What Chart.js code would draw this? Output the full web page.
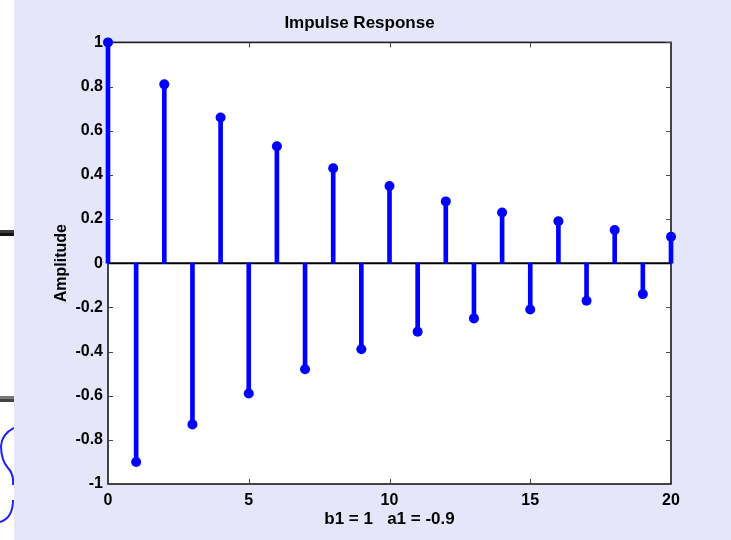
<!DOCTYPE html>
<html>
<head>
<meta charset="utf-8">
<script src="https://cdn.jsdelivr.net/npm/chart.js@4/dist/chart.umd.min.js"></script>
<style>
html,body{margin:0;padding:0;background:#e6e6fa;}
#wrap{width:731px;height:540px;position:relative;}
</style>
</head>
<body>
<div id="wrap"><canvas id="c" width="731" height="540"></canvas></div>
<script>
// Data
const samples = [0,1,2,3,4,5,6,7,8,9,10,11,12,13,14,15,16,17,18,19,20];
const amplitude = [1.0,-0.90,0.81,-0.73,0.66,-0.59,0.53,-0.48,0.43,-0.39,0.35,-0.31,0.28,-0.25,0.23,-0.21,0.19,-0.17,0.15,-0.14,0.12];
const xTicks = [0,5,10,15,20];
const yTicks = [-1,-0.8,-0.6,-0.4,-0.2,0,0.2,0.4,0.6,0.8,1];
const titleText = 'Impulse Response';
const xLabel = 'b1 = 1   a1 = -0.9';
const yLabel = 'Amplitude';

const pts = samples.map((n,i)=>({x:n,y:amplitude[i]}));
const FONT = '"Liberation Sans", Arial, Helvetica, sans-serif';

const decor = {
  id:'decor',
  beforeDraw(chart){
    const ctx = chart.ctx;
    ctx.save();
    ctx.fillStyle = '#e6e6fa';
    ctx.fillRect(0,0,chart.width,chart.height);
    // left strip from neighbouring screenshot
    ctx.fillStyle = '#ffffff';
    ctx.fillRect(0,0,14,chart.height);
    ctx.fillStyle = '#3a3a3a';
    ctx.fillRect(0,230,14,3);
    ctx.fillStyle = '#111111';
    ctx.fillRect(0,233,14,3);
    ctx.fillStyle = '#777777';
    ctx.fillRect(0,396,14,3);
    ctx.fillStyle = '#444444';
    ctx.fillRect(0,399,14,3);
    ctx.beginPath();
    ctx.rect(0,0,14,chart.height);
    ctx.clip();
    ctx.strokeStyle = '#2020ff';
    ctx.lineWidth = 2;
    ctx.beginPath();
    ctx.moveTo(14,428);
    ctx.quadraticCurveTo(2,434,1,446);
    ctx.quadraticCurveTo(1,460,8,468);
    ctx.quadraticCurveTo(14,474,13,485);
    ctx.moveTo(13,500);
    ctx.quadraticCurveTo(13,518,0,522);
    ctx.stroke();
    ctx.restore();
    // white plot area
    const a = chart.chartArea;
    ctx.save();
    ctx.fillStyle = '#ffffff';
    ctx.fillRect(a.left,a.top,a.right-a.left,a.bottom-a.top);
    ctx.restore();
  },
  beforeDatasetsDraw(chart){
    const ctx = chart.ctx, a = chart.chartArea;
    const xs = chart.scales.x, ys = chart.scales.y;
    ctx.save();
    // box
    ctx.strokeStyle = '#1a1a1a';
    ctx.lineWidth = 1.6;
    ctx.strokeRect(a.left,a.top,a.right-a.left,a.bottom-a.top);
    // inward ticks
    ctx.strokeStyle = '#444';
    ctx.lineWidth = 1;
    ctx.beginPath();
    yTicks.forEach(v=>{
      const y = Math.round(ys.getPixelForValue(v))+0.5;
      ctx.moveTo(a.left,y); ctx.lineTo(a.left+5,y);
      ctx.moveTo(a.right,y); ctx.lineTo(a.right-5,y);
    });
    xTicks.forEach(v=>{
      const x = Math.round(xs.getPixelForValue(v))+0.5;
      ctx.moveTo(x,a.bottom); ctx.lineTo(x,a.bottom-5);
      ctx.moveTo(x,a.top); ctx.lineTo(x,a.top+5);
    });
    ctx.stroke();
    // baseline at zero
    const y0 = ys.getPixelForValue(0);
    ctx.strokeStyle = '#000';
    ctx.lineWidth = 2;
    ctx.beginPath();
    ctx.moveTo(xs.getPixelForValue(samples[0]),y0);
    ctx.lineTo(xs.getPixelForValue(samples[samples.length-1]),y0);
    ctx.stroke();
    ctx.restore();
  }
};

new Chart(document.getElementById('c'),{
  type:'bar',
  data:{
    datasets:[
      {type:'line',data:pts,showLine:false,pointRadius:5,pointHoverRadius:5,
       pointBackgroundColor:'#0000ff',pointBorderColor:'#0000ff',pointBorderWidth:0,clip:false,order:0},
      {type:'bar',data:pts,backgroundColor:'#0000ff',barThickness:4,borderWidth:0,clip:false,order:1}
    ]
  },
  options:{
    responsive:false,
    animation:false,
    events:[],
    layout:{padding:{left:48,right:60,top:0,bottom:0}},
    plugins:{
      legend:{display:false},
      tooltip:{enabled:false},
      title:{display:true,text:titleText,color:'#000',
        font:{family:FONT,size:17,weight:'bold'},padding:{top:13,bottom:9}}
    },
    scales:{
      x:{type:'linear',min:0,max:20,offset:false,
        grid:{display:false,drawTicks:false},
        border:{display:false},
        afterBuildTicks(s){s.ticks = xTicks.map(v=>({value:v}));},
        ticks:{color:'#000',padding:7,maxRotation:0,autoSkip:false,
          font:{family:FONT,size:16,weight:'bold'},callback:v=>String(v)},
        title:{display:true,text:xLabel,color:'#000',
          font:{family:FONT,size:17,weight:'bold'},padding:{top:0,bottom:10}},
        afterFit(s){s.height = 56;}
      },
      y:{type:'linear',min:-1,max:1,
        grid:{display:false,drawTicks:false},
        border:{display:false},
        afterBuildTicks(s){s.ticks = yTicks.map(v=>({value:v}));},
        ticks:{color:'#000',padding:5,autoSkip:false,
          font:{family:FONT,size:16,weight:'bold'},callback:v=>String(Number(v.toFixed(1)))},
        title:{display:true,text:yLabel,color:'#000',
          font:{family:FONT,size:16,weight:'bold'},padding:{top:4,bottom:0}},
        afterFit(s){s.width = 60;}
      }
    }
  },
  plugins:[decor]
});
</script>
</body>
</html>
